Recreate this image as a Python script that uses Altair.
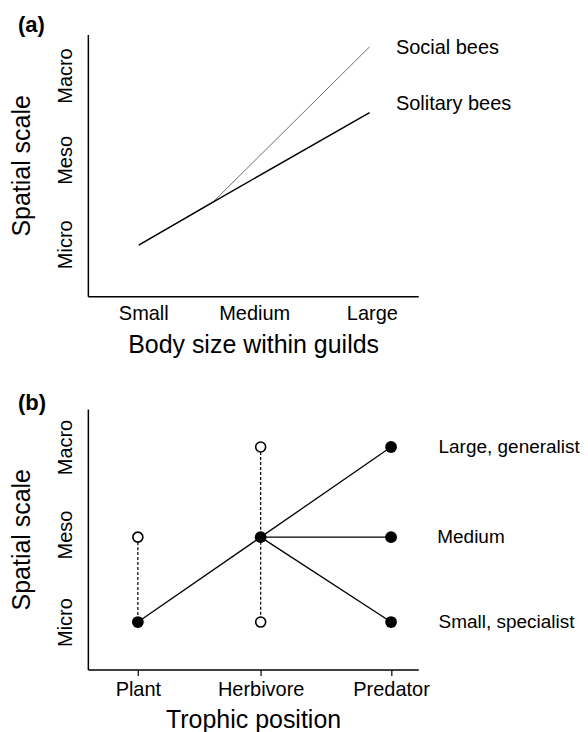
import altair as alt
import pandas as pd

FONT = "Liberation Sans"

# ---------------- Panel (a) data ----------------
size_x = [0.96, 1.61, 2.98]
solitary_y = [0.99, 1.50, 2.56]
social_y = [0.99, 1.50, 3.34]
a_label_text = ["Social bees", "Solitary bees"]
a_label_x = [3.21, 3.21]
a_label_y = [3.33, 2.66]
a_tick_vals = [1, 1.97, 3]
a_tick_text = ["Small", "Medium", "Large"]

scale_vals = [1, 2, 3]
scale_text = ["Micro", "Meso", "Macro"]

# ---------------- Panel (b) data ----------------
b_tick_vals = [1, 1.97, 3]
b_tick_text = ["Plant", "Herbivore", "Predator"]
# solid segments (trophic x, scale y) -> (x2, y2)
seg_x = [1, 1.97, 1.97, 1.97]
seg_y = [1, 1.97, 1.97, 1.97]
seg_x2 = [1.97, 3, 3, 3]
seg_y2 = [1.97, 3, 1.97, 1]
# dashed ranges
dash_x = [1, 1.97]
dash_y = [1.97, 3]
dash_y2 = [1, 1]
# open and filled points
open_x = [1, 1.97, 1.97]
open_y = [1.97, 3, 1]
fill_x = [1, 1.97, 3, 3, 3]
fill_y = [1, 1.97, 3, 1.97, 1]
b_label_text = ["Large, generalist", "Medium", "Small, specialist"]
b_label_x = [3.375, 3.365, 3.375]
b_label_y = [3, 1.97, 1]


def label_expr(vals, texts):
    expr = f"'{texts[-1]}'"
    for i in range(len(vals) - 2, -1, -1):
        mid = (vals[i] + vals[i + 1]) / 2
        expr = f"datum.value < {mid} ? '{texts[i]}' : ({expr})"
    return expr


def y_axis():
    return alt.Axis(
        values=scale_vals,
        labelExpr=label_expr(scale_vals, scale_text),
        labelAngle=270,
        labelAlign="center",
        labelBaseline="alphabetic",
        labelPadding=16,
        labelFont=FONT,
        labelFontSize=20,
        labelColor="black",
        ticks=False,
        grid=False,
        domainColor="black",
        domainWidth=1.5,
        title="Spatial scale",
        titleFont=FONT,
        titleFontSize=25,
        titleFontWeight="normal",
        titleColor="black",
        titlePadding=21,
    )


def x_axis(vals, texts, title, ticks):
    kw = dict(
        values=vals,
        labelExpr=label_expr(vals, texts),
        labelFont=FONT,
        labelFontSize=20,
        labelColor="black",
        labelPadding=7 if not ticks else 4,
        ticks=ticks,
        grid=False,
        domainColor="black",
        domainWidth=1.5,
        title=title,
        titleFont=FONT,
        titleFontSize=25,
        titleFontWeight="normal",
        titleColor="black",
        titlePadding=9 if not ticks else 8,
    )
    if ticks:
        kw.update(tickSize=6, tickColor="black", tickWidth=1.2)
    return alt.Axis(**kw)


W = 331
# ---------------- Panel (a) ----------------
xa = alt.Scale(domain=[0.515, 3.406], nice=False, zero=False)
ya = alt.Scale(domain=[0.385, 3.485], nice=False, zero=False)

df_sol = pd.DataFrame({"x": size_x, "y": solitary_y})
df_soc = pd.DataFrame({"x": size_x, "y": social_y})
df_alab = pd.DataFrame({"x": a_label_x, "y": a_label_y, "t": a_label_text})

soc = alt.Chart(df_soc).mark_line(color="#6e6e6e", strokeWidth=1).encode(
    x=alt.X("x:Q", scale=xa, axis=x_axis(a_tick_vals, a_tick_text, "Body size within guilds", False)),
    y=alt.Y("y:Q", scale=ya, axis=y_axis()),
)
sol = alt.Chart(df_sol).mark_line(color="black", strokeWidth=1.5).encode(
    x=alt.X("x:Q", scale=xa), y=alt.Y("y:Q", scale=ya)
)
alab = alt.Chart(df_alab).mark_text(
    align="left", baseline="middle", font=FONT, fontSize=20, color="black"
).encode(x=alt.X("x:Q", scale=xa), y=alt.Y("y:Q", scale=ya), text="t:N")

panel_a = alt.layer(soc, sol, alab).properties(
    width=W,
    height=262,
    title=alt.TitleParams(
        "(a)", anchor="start", frame="bounds", fontSize=22, fontWeight="bold",
        font=FONT, color="black", dx=8, offset=-2,
    ),
)

# ---------------- Panel (b) ----------------
xb = alt.Scale(domain=[0.605, 3.215], nice=False, zero=False)
yb = alt.Scale(domain=[0.458, 3.435], nice=False, zero=False)

df_seg = pd.DataFrame({"x": seg_x, "y": seg_y, "x2": seg_x2, "y2": seg_y2})
df_dash = pd.DataFrame({"x": dash_x, "y": dash_y, "y2": dash_y2})
df_open = pd.DataFrame({"x": open_x, "y": open_y})
df_fill = pd.DataFrame({"x": fill_x, "y": fill_y})
df_blab = pd.DataFrame({"x": b_label_x, "y": b_label_y, "t": b_label_text})

dash = alt.Chart(df_dash).mark_rule(color="black", strokeWidth=1.2, strokeDash=[3, 2]).encode(
    x=alt.X("x:Q", scale=xb, axis=x_axis(b_tick_vals, b_tick_text, "Trophic position", True)),
    y=alt.Y("y:Q", scale=yb, axis=y_axis()),
    y2="y2:Q",
)
seg = alt.Chart(df_seg).mark_rule(color="black", strokeWidth=1.3).encode(
    x=alt.X("x:Q", scale=xb), y=alt.Y("y:Q", scale=yb), x2="x2:Q", y2="y2:Q"
)
opn = alt.Chart(df_open).mark_point(
    shape="circle", filled=True, fill="white", stroke="black", strokeWidth=1.6, size=100, opacity=1
).encode(x=alt.X("x:Q", scale=xb), y=alt.Y("y:Q", scale=yb))
fil = alt.Chart(df_fill).mark_point(
    shape="circle", filled=True, color="black", size=140, opacity=1
).encode(x=alt.X("x:Q", scale=xb), y=alt.Y("y:Q", scale=yb))
blab = alt.Chart(df_blab).mark_text(
    align="left", baseline="middle", font=FONT, fontSize=19, color="black"
).encode(x=alt.X("x:Q", scale=xb), y=alt.Y("y:Q", scale=yb), text="t:N")

panel_b = alt.layer(dash, seg, opn, fil, blab).properties(
    width=W,
    height=261,
    title=alt.TitleParams(
        "(b)", anchor="start", frame="bounds", fontSize=22, fontWeight="bold",
        font=FONT, color="black", dx=8, offset=-6,
    ),
)

chart = (
    alt.vconcat(panel_a, panel_b, spacing=35)
    .properties(padding={"left": 1, "top": 5, "right": 0, "bottom": 0})
    .configure_view(stroke=None)
)

chart.save("out.html", embed_options={"renderer": "svg", "actions": False})
